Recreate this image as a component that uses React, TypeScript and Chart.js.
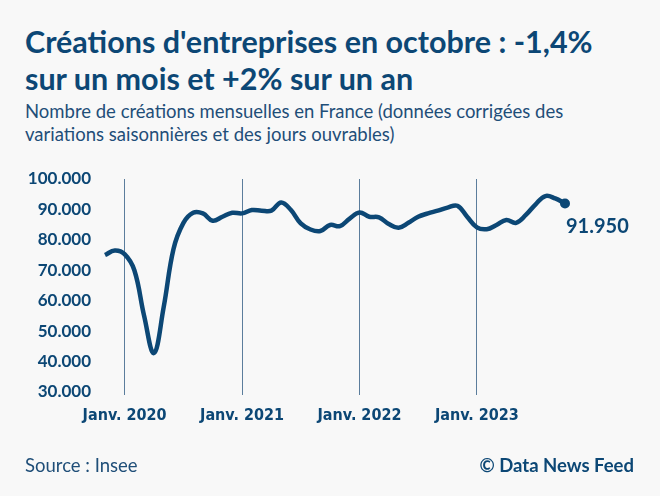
import React, { useEffect, useRef } from "react";
import { Chart, registerables } from "chart.js";

Chart.register(...registerables);

const months: string[] = [
  "Nov. 2019", "Déc. 2019",
  "Janv. 2020", "Févr. 2020", "Mars 2020", "Avr. 2020", "Mai 2020", "Juin 2020", "Juil. 2020", "Août 2020", "Sept. 2020", "Oct. 2020", "Nov. 2020", "Déc. 2020",
  "Janv. 2021", "Févr. 2021", "Mars 2021", "Avr. 2021", "Mai 2021", "Juin 2021", "Juil. 2021", "Août 2021", "Sept. 2021", "Oct. 2021", "Nov. 2021", "Déc. 2021",
  "Janv. 2022", "Févr. 2022", "Mars 2022", "Avr. 2022", "Mai 2022", "Juin 2022", "Juil. 2022", "Août 2022", "Sept. 2022", "Oct. 2022", "Nov. 2022", "Déc. 2022",
  "Janv. 2023", "Févr. 2023", "Mars 2023", "Avr. 2023", "Mai 2023", "Juin 2023", "Juil. 2023", "Août 2023", "Sept. 2023", "Oct. 2023",
];

const creations: number[] = [
  75000, 76500,
  75300, 70000, 55000, 42800, 58000, 77000, 85500, 88900, 88700, 86300, 87600, 88900,
  88700, 89800, 89600, 89600, 92300, 89800, 85400, 83400, 82900, 84900, 84500, 87000,
  89000, 87600, 87400, 85200, 84000, 85600, 87600, 88700, 89600, 90600, 91200, 87600,
  84100, 83500, 84900, 86500, 85600, 88200, 91700, 94400, 93600, 91950,
];

const yTicks: number[] = [30000, 40000, 50000, 60000, 70000, 80000, 90000, 100000];

const NAVY = "#0c4775";
const BG = "#f8f8f8";

const fmt = (v: number) =>
  String(Math.round(v)).replace(/\B(?=(\d{3})+(?!\d))/g, ".");

const lastLabelPlugin = {
  id: "lastLabel",
  afterDatasetsDraw(chart: any) {
    const meta = chart.getDatasetMeta(0);
    const pt = meta.data[meta.data.length - 1];
    if (!pt) return;
    const ctx = chart.ctx;
    ctx.save();
    ctx.font = "bold 20px Lato";
    ctx.fillStyle = NAVY;
    ctx.textAlign = "left";
    ctx.textBaseline = "middle";
    ctx.fillText(fmt(creations[creations.length - 1]), pt.x + 1, pt.y + 23);
    ctx.restore();
  },
};

export default function App() {
  const ref = useRef<HTMLCanvasElement | null>(null);

  useEffect(() => {
    document.body.style.margin = "0";
    document.body.style.background = BG;
    const isJan = (i: number) => (months[i] || "").startsWith("Janv");
    const chart = new Chart(ref.current as HTMLCanvasElement, {
      type: "line",
      data: {
        labels: months,
        datasets: [
          {
            data: creations,
            borderColor: NAVY,
            backgroundColor: NAVY,
            borderWidth: 4.5,
            tension: 0.4,
            pointRadius: (c: any) => (c.dataIndex === creations.length - 1 ? 5 : 0),
            pointHoverRadius: 0,
            pointBorderWidth: 0,
            fill: false,
            clip: false as any,
          },
        ],
      },
      options: {
        animation: false,
        responsive: false,
        maintainAspectRatio: false,
        layout: { padding: { left: 0, right: 95, top: 179, bottom: 64 } },
        plugins: {
          legend: { display: false },
          tooltip: { enabled: false },
          title: { display: false },
        },
        scales: {
          x: {
            type: "category",
            offset: false,
            border: { display: false },
            grid: {
              display: true,
              drawOnChartArea: true,
              drawTicks: true,
              tickLength: 3,
              lineWidth: 1,
              color: (c: any) => (isJan(c.index) ? "#5b7d9c" : "rgba(0,0,0,0)"),
              tickColor: (c: any) => (isJan(c.index) ? "#5b7d9c" : "rgba(0,0,0,0)"),
            } as any,
            ticks: {
              autoSkip: false,
              maxRotation: 0,
              minRotation: 0,
              padding: 11,
              color: NAVY,
              font: { family: "'Liberation Sans Narrow', 'DejaVu Sans Condensed', sans-serif", weight: "bold", size: 16 },
              callback: (_v: any, i: number) => (isJan(i) ? months[i] : ""),
            },
            afterFit: (s: any) => {
              s.height = 40;
            },
          },
          y: {
            min: 30000,
            max: 100000,
            border: { display: false },
            grid: { display: false, drawTicks: false },
            afterBuildTicks: (s: any) => {
              s.ticks = yTicks.map((v) => ({ value: v }));
            },
            ticks: {
              padding: 14,
              color: NAVY,
              font: { family: "Lato", weight: "bold", size: 17 },
              callback: (v: any) => fmt(Number(v)),
            },
            afterFit: (s: any) => {
              s.width = 105;
            },
          },
        },
      },
      plugins: [lastLabelPlugin],
    } as any);
    return () => chart.destroy();
  }, []);

  return (
    <div
      style={{
        position: "absolute",
        left: 0,
        top: 0,
        width: 660,
        height: 496,
        background: BG,
        color: NAVY,
        fontFamily: "Lato, sans-serif",
        overflow: "hidden",
      }}
    >
      <div
        style={{
          position: "absolute",
          left: 25,
          top: 23,
          width: 635,
          fontSize: 30.5,
          lineHeight: "37px",
          fontWeight: 700,
          whiteSpace: "nowrap",
        }}
      >
        Créations d'entreprises en octobre : -1,4%
        <br />
        sur un mois et +2% sur un an
      </div>
      <div
        style={{
          position: "absolute",
          left: 25,
          top: 100,
          width: 635,
          fontSize: 18.5,
          lineHeight: "23px",
          fontWeight: 400,
          color: "#1f4e78",
          whiteSpace: "nowrap",
        }}
      >
        Nombre de créations mensuelles en France (données corrigées des
        <br />
        variations saisonnières et des jours ouvrables)
      </div>
      <canvas
        ref={ref}
        width={660}
        height={496}
        style={{ position: "absolute", left: 0, top: 0, width: 660, height: 496 }}
      />
      <div
        style={{
          position: "absolute",
          left: 25,
          top: 454,
          fontSize: 18.5,
          lineHeight: "22px",
          color: "#1f4e78",
        }}
      >
        Source : Insee
      </div>
      <div
        style={{
          position: "absolute",
          right: 26,
          top: 454,
          fontSize: 18.5,
          lineHeight: "22px",
          fontWeight: 700,
        }}
      >
        © Data News Feed
      </div>
    </div>
  );
}
